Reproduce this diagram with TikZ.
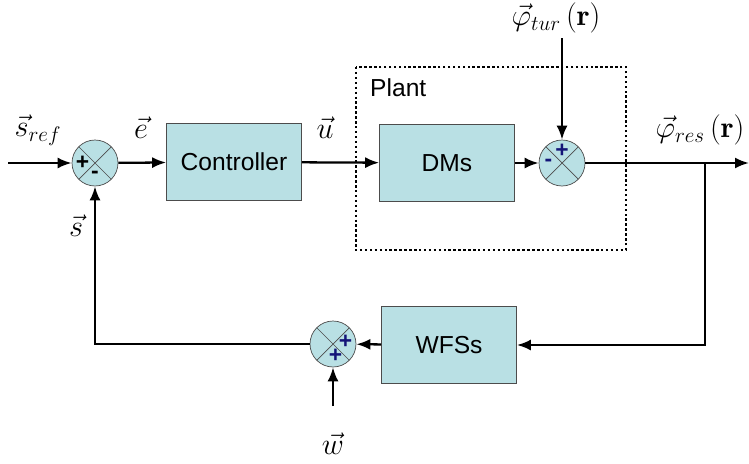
\documentclass[tikz,border=0pt]{standalone}
\usepackage{fontspec}
\setsansfont{Liberation Sans}
\usetikzlibrary{arrows.meta}
\definecolor{boxfill}{RGB}{185,224,228}
\definecolor{signblue}{RGB}{20,20,120}
\tikzset{
  block/.style={draw=black!70, fill=boxfill, font=\sffamily\fontsize{14}{16}\selectfont, minimum width=2.7cm, minimum height=1.54cm, inner sep=0pt},
  sumnode/.style={circle, draw=black!70, fill=boxfill, minimum size=0.92cm, inner sep=0pt,
    path picture={\draw[black!70] (path picture bounding box.north west) -- (path picture bounding box.south east)
      (path picture bounding box.north east) -- (path picture bounding box.south west);}},
  sign/.style={font=\sffamily\bfseries\fontsize{13}{13}\selectfont, inner sep=0pt},
  lbl/.style={font=\fontsize{17}{20}\selectfont, inner sep=0pt},
  sig/.style={line width=1.3pt}
}
\begin{document}
\begin{tikzpicture}[x=0.02cm, y=-0.02cm, >={Latex[length=2.8mm,width=2.2mm]}]
\useasboundingbox (0,0) rectangle (749,463);
% blocks
\node[block] (ctrl) at (234,162) {Controller};
\node[block] (dms) at (447,163) {DMs};
\node[block] (wfs) at (449,345) {WFSs};
\node[sumnode] (s1) at (95,163) {};
\node[sumnode] (s2) at (562,163) {};
\node[sumnode] (s3) at (333,344) {};
% plant frame
\draw[line width=1.6pt, dash pattern=on 1.4pt off 1.4pt] (356,67) rectangle (626,250);
\node[font=\sffamily\fontsize{14}{16}\selectfont, anchor=west] (plant) at (364,88) {Plant};
% signs
\node[sign] at ([xshift=-0.25cm]s1.center) {+};
\node[sign] at ([yshift=-0.24cm]s1.center) {-};
\node[sign, text=signblue] at ([yshift=0.24cm]s2.center) {+};
\node[sign, text=signblue] at ([xshift=-0.27cm]s2.center) {-};
\node[sign, text=signblue] at ([xshift=0.25cm, yshift=0.05cm]s3.center) {+};
\node[sign, text=signblue] at ([xshift=0.05cm, yshift=-0.24cm]s3.center) {+};
% labels
\node[lbl] (sref) at (38,130) {$\vec{s}_{ref}$};
\node[lbl] (elbl) at (141,128) {$\vec{e}$};
\node[lbl] (ulbl) at (325,128) {$\vec{u}$};
\node[lbl] (slbl) at (76,226) {$\vec{s}$};
\node[lbl] (tur) at (556,18) {$\vec{\varphi}_{tur}\,(\mathbf{r})$};
\node[lbl] (res) at (700,130) {$\vec{\varphi}_{res}\,(\mathbf{r})$};
\node[lbl] (wlbl) at (333,444) {$\vec{w}$};
% connectors
\coordinate (in) at (8,163);
\coordinate (out) at (749,163);
\coordinate (wfrom) at (333,406);
\coordinate (turfrom) at (562,38);
\coordinate (br) at (705,163);
\draw[sig, ->] (in) -- (s1);
\draw[sig, ->] (s1) -- (ctrl);
\draw[sig, ->] (ctrl) -- (dms);
\draw[sig, ->] (dms) -- (s2);
\draw[sig, ->] (turfrom) -- (s2);
\draw[sig, ->] (s2) -- (out);
\draw[sig, ->] (br) |- (wfs);
\draw[sig, ->] (wfs) -- (s3);
\draw[sig, ->] (wfrom) -- (s3);
\draw[sig, ->] (s3) -| (s1);
\end{tikzpicture}
\end{document}
